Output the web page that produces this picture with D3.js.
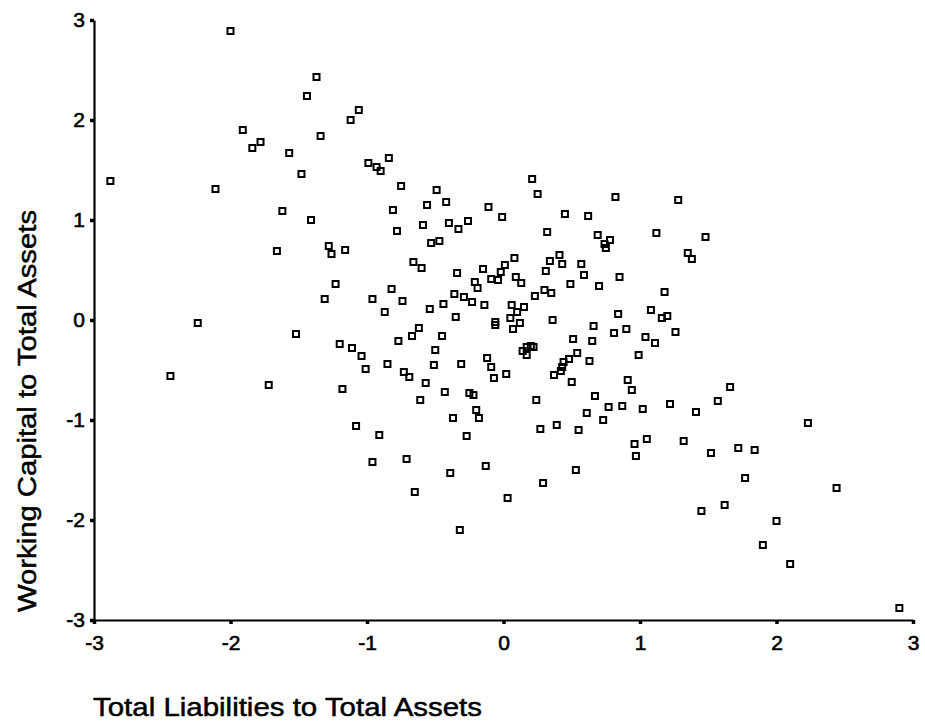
<!DOCTYPE html>
<html>
<head>
<meta charset="utf-8">
<script src="https://cdn.jsdelivr.net/npm/d3@7"></script>
<style>
  body { margin: 0; background: #fff; }
  svg { display: block; font-family: "Liberation Sans", Arial, sans-serif; }
</style>
</head>
<body>
<div id="vis"></div>
<script>
const FRAME_WIDTH = 925;
const FRAME_HEIGHT = 727;
const PLOT = {left: 94, right: 913, top: 20, bottom: 620};

// tick values
const X_TICKS = [-3, -2, -1, 0, 1, 2, 3];
const Y_TICKS = [-3, -2, -1, 0, 1, 2, 3];

// total liabilities / total assets (x) and working capital / total assets (y)
const xValues = [
  -2.00, -1.37, -1.44, -1.06, -1.12, -1.91, -1.78, -1.84, -1.34, -1.57, -0.99, -1.48, -2.88, -2.11, -1.62, -1.41,
  -0.93, -0.90, -0.84, -0.75, -0.49, -0.56, -0.42, -0.81, -0.11, -0.01, -0.26, 0.21, 0.25, 0.45, 0.62, 0.82,
  1.28,
  -1.66, -1.28, -1.26, -1.16, -1.23, -1.31, -0.96, -2.24, -1.52, -1.20, -1.11, -1.04, -1.01, -2.44, -1.72, -1.18, -1.08,
  -0.78, -0.59, -0.40, -0.33, 0.32, 0.69, 0.78, 0.74, 0.75, -0.53, -0.47, -0.66, -0.60, 0.08, 0.41, 0.34,
  0.43, 0.57, 0.31, 0.59, 0.85, -0.15, 0.01, -0.02, -0.09, -0.04, 0.09, 0.13, -0.34, -0.21, -0.19, 0.49,
  0.70, -0.82, -0.74, -0.87, -0.36, -0.29, -0.23, -0.44, -0.54, -0.14, 0.23, 0.30, 0.35, 0.06, 0.15, 0.10,
  0.05, 0.12, 0.07, -0.35, -0.06, -0.06, 0.36, 0.84, 1.08, -0.62, -0.67, -0.45, -0.77, -0.50, -0.85, -0.51,
  -0.31, -0.73, -0.69, -0.57, -0.43, -0.61, -0.37, -0.25, -0.22, -0.20, -0.18, -0.12, -0.09, -0.07, 0.02, 0.24,
  0.27, 0.39, 0.55, 0.14, 0.17, 0.20, 0.22, 0.17, 0.51, 0.66, 0.65, 0.81, 0.90, 1.04, 0.99, 0.54,
  0.48, 0.44, 0.43, 0.42, 0.37, 0.50, 0.63, 0.91, 0.94, 0.67, 0.77, 0.87, 1.02, 0.61, 0.73,
  1.12, 1.48, 1.35, 1.38, 1.18, 1.16, 1.20, 1.26, 1.11, 1.66, 1.57, 1.22, 1.41, 2.23,
  -0.91, -0.96, -0.27, -0.71, -0.39, -0.13, -0.65, 0.03, 0.29, 0.53, -0.32, 0.96, 0.97, 1.05,
  1.32, 1.52, 1.72, 1.84, 1.77, 2.44, 1.45, 1.62, 2.00, 1.90, 2.10, 2.90
];
const yValues = [
  2.89, 2.43, 2.24, 2.10, 2.00, 1.90, 1.78, 1.72, 1.84, 1.67, 1.57, 1.46, 1.39, 1.31, 1.09, 1.00,
  1.53, 1.49, 1.62, 1.34, 1.30, 1.15, 1.18, 1.10, 1.13, 1.03, 0.99, 1.41, 1.26, 1.06, 1.04, 1.23,
  1.20,
  0.69, 0.74, 0.66, 0.70, 0.36, 0.21, 0.21, -0.03, -0.14, -0.24, -0.28, -0.36, -0.49, -0.56, -0.65, -0.69, -1.06,
  0.89, 0.95, 0.97, 0.91, 0.88, 0.85, 0.80, 0.76, 0.72, 0.77, 0.79, 0.58, 0.52, 0.62, 0.65, 0.59,
  0.56, 0.56, 0.49, 0.45, 0.43, 0.51, 0.55, 0.48, 0.41, 0.40, 0.43, 0.37, 0.47, 0.38, 0.32, 0.36,
  0.34, 0.31, 0.19, 0.08, 0.26, 0.23, 0.18, 0.16, 0.11, 0.15, 0.24, 0.30, 0.27, 0.15, 0.13, 0.08,
  0.02, -0.03, -0.09, 0.03, -0.02, -0.05, 0.00, 0.06, 0.10, -0.08, -0.16, -0.16, -0.21, -0.30, -0.44, -0.45,
  -0.44, -0.52, -0.57, -0.63, -0.72, -0.80, -0.98, -0.73, -0.75, -0.90, -0.98, -0.38, -0.47, -0.58, -0.54, -0.80,
  -1.09, -1.05, -1.10, -0.31, -0.27, -0.26, -0.27, -0.35, -0.19, -0.06, -0.21, -0.13, -0.09, -0.17, -0.35, -0.33,
  -0.39, -0.42, -0.47, -0.51, -0.55, -0.62, -0.41, -0.60, -0.70, -0.76, -0.87, -0.86, -0.89, -0.93, -1.00,
  0.87, 0.83, 0.67, 0.61, 0.28, 0.02, 0.04, -0.12, -0.23, -0.67, -0.81, -0.84, -0.92, -1.03,
  -1.15, -1.42, -1.16, -1.39, -1.53, -1.46, -1.72, -1.78, -1.63, -1.50, -2.10, -1.24, -1.36, -1.19,
  -1.21, -1.33, -1.28, -1.30, -1.58, -1.68, -1.91, -1.85, -2.01, -2.25, -2.44, -2.88
];

const X_TITLE = "Total Liabilities to Total Assets";
const Y_TITLE = "Working Capital to Total Assets";

const points = xValues.map((x, i) => ({x: x, y: yValues[i]}));

const svg = d3.select("#vis")
  .append("svg")
    .attr("width", FRAME_WIDTH)
    .attr("height", FRAME_HEIGHT);

const X_SCALE = d3.scaleLinear().domain([-3, 3]).range([PLOT.left, PLOT.right]);
const Y_SCALE = d3.scaleLinear().domain([-3, 3]).range([PLOT.bottom, PLOT.top]);

// plain hyphen instead of the unicode minus d3 uses
const fmt = d => String(d);

// x axis along the bottom
const xAxis = svg.append("g")
  .attr("transform", "translate(0," + PLOT.bottom + ")")
  .call(d3.axisBottom(X_SCALE).tickValues(X_TICKS).tickSize(4).tickSizeOuter(0).tickPadding(11).tickFormat(fmt));

// y axis on the left
const yAxis = svg.append("g")
  .attr("transform", "translate(" + PLOT.left + ",0)")
  .call(d3.axisLeft(Y_SCALE).tickValues(Y_TICKS).tickSize(4).tickSizeOuter(0).tickPadding(5).tickFormat(fmt));

[xAxis, yAxis].forEach(ax => {
  ax.select(".domain").attr("stroke", "#000").attr("stroke-width", 2.2);
  ax.selectAll(".tick line").attr("stroke", "#000").attr("stroke-width", 3.5);
  ax.selectAll(".tick text")
    .attr("fill", "#000")
    .attr("stroke", "#000")
    .attr("stroke-width", 0.6)
    .attr("font-size", "21px")
    .attr("font-family", "Liberation Sans, Arial, sans-serif");
});

// hollow square markers
const S = 6;
svg.append("g")
  .selectAll("rect")
  .data(points)
  .enter()
  .append("rect")
    .attr("x", d => X_SCALE(d.x) - S / 2)
    .attr("y", d => Y_SCALE(d.y) - S / 2)
    .attr("width", S)
    .attr("height", S)
    .attr("fill", "none")
    .attr("stroke", "#000")
    .attr("stroke-width", 2);

// axis titles
svg.append("text")
  .attr("x", 93)
  .attr("y", 716)
  .attr("font-size", "26px")
  .attr("textLength", 389)
  .attr("lengthAdjust", "spacingAndGlyphs")
  .attr("fill", "#000")
  .attr("stroke", "#000")
  .attr("stroke-width", 0.5)
  .text(X_TITLE);

svg.append("text")
  .attr("transform", "translate(36,612) rotate(-90)")
  .attr("font-size", "26px")
  .attr("textLength", 402)
  .attr("lengthAdjust", "spacingAndGlyphs")
  .attr("fill", "#000")
  .attr("stroke", "#000")
  .attr("stroke-width", 0.5)
  .text(Y_TITLE);
</script>
</body>
</html>
